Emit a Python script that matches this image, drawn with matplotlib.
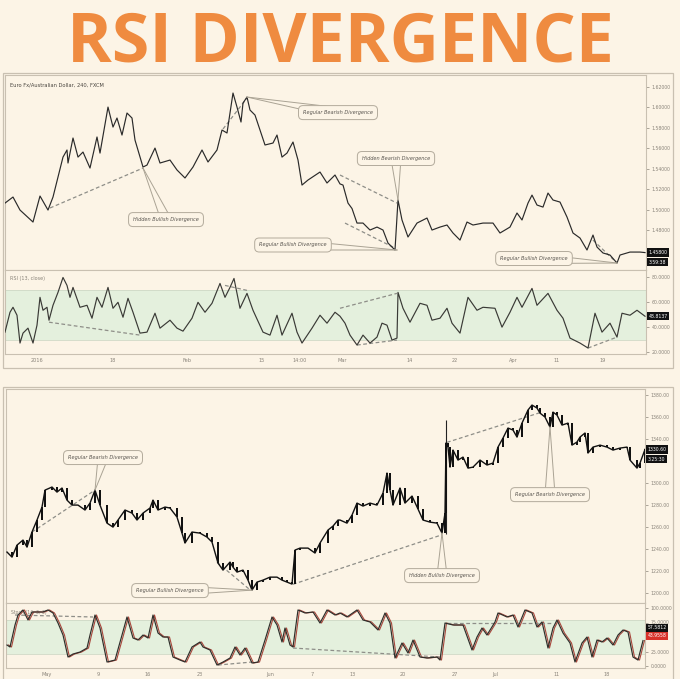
import numpy as np
import matplotlib.pyplot as plt
from matplotlib.patches import Rectangle
from matplotlib.transforms import blended_transform_factory

W, H = 680, 679
BG = '#fcf4e6'
EDGE = '#c9c0b1'
TICK = '#8a847a'
BAND = '#e4f0dd'
ORANGE = '#ef8b40'

# ---- top chart: EUR/AUD 240 (bar position, close) ----
eur_bar = [5, 13, 20, 33, 40, 48, 53, 63, 67, 68, 73, 78, 83, 90, 97, 100, 108, 113, 117, 122,
           127, 132, 135, 143, 147, 155, 160, 170, 177, 185, 193, 202, 208, 217, 222, 227, 233,
           237, 241, 243, 247, 250, 255, 260, 265, 273, 277, 282, 287, 293, 298, 302, 308, 320,
           327, 335, 340, 343, 348, 352, 357, 363, 370, 377, 383, 388, 395, 398, 402, 408, 417,
           427, 432, 440, 447, 453, 460, 467, 473, 483, 493, 500, 510, 517, 522, 528, 532, 537,
           543, 548, 553, 560, 567, 573, 580, 587, 593, 597, 603, 610, 617, 620, 630, 640, 645]
eur_close = [1.5063, 1.5122, 1.4995, 1.4878, 1.5132, 1.4995, 1.5122, 1.5512, 1.5581, 1.5454,
             1.5698, 1.5512, 1.5561, 1.5405, 1.5708, 1.5551, 1.6000, 1.5805, 1.5893, 1.5727,
             1.5942, 1.5893, 1.5678, 1.5415, 1.5434, 1.5600, 1.5454, 1.5483, 1.5386, 1.5308,
             1.5415, 1.5581, 1.5464, 1.5581, 1.5776, 1.5747, 1.6137, 1.6000, 1.5854, 1.6039,
             1.6098, 1.5971, 1.5922, 1.5776, 1.5630, 1.5649, 1.5727, 1.5512, 1.5551, 1.5659,
             1.5483, 1.5239, 1.5288, 1.5366, 1.5259, 1.5337, 1.5250, 1.5239, 1.5063, 1.5010,
             1.4868, 1.4868, 1.4800, 1.4829, 1.4800, 1.4673, 1.4605, 1.5093, 1.4898, 1.4732,
             1.4868, 1.4917, 1.4800, 1.4829, 1.4849, 1.4771, 1.4702, 1.4878, 1.4849, 1.4868,
             1.4868, 1.4771, 1.4829, 1.4966, 1.4898, 1.5063, 1.5141, 1.5044, 1.5024, 1.5161,
             1.5093, 1.5073, 1.4927, 1.4771, 1.4722, 1.4605, 1.4751, 1.4634, 1.4576, 1.4556,
             1.4478, 1.4556, 1.4585, 1.4585, 1.4580]
eur_yticks = [1.48, 1.50, 1.52, 1.54, 1.56, 1.58, 1.60, 1.62]

# RSI (13, close)
rsi_bar = [5, 10, 13, 17, 20, 23, 28, 33, 37, 40, 43, 47, 49, 53, 58, 63, 67, 70, 73, 80, 87,
           92, 97, 102, 108, 113, 118, 123, 128, 133, 140, 147, 155, 160, 170, 177, 183, 192,
           198, 205, 212, 220, 225, 230, 234, 240, 247, 253, 263, 270, 277, 282, 292, 297, 302,
           312, 320, 327, 335, 340, 345, 350, 357, 363, 370, 377, 382, 387, 392, 397, 398, 403,
           410, 420, 427, 432, 440, 447, 452, 460, 468, 477, 483, 495, 502, 510, 517, 522, 532,
           537, 548, 557, 563, 570, 580, 588, 595, 602, 610, 617, 622, 630, 637, 645]
rsi_val = [36, 52, 56, 49.6, 27.2, 35.2, 39.2, 27.2, 41.6, 64, 53.6, 56, 45.6, 57.6, 68, 80,
           73.6, 64, 72, 56, 57.6, 47.2, 64, 56, 72, 55.2, 60, 48, 63.2, 52, 35.2, 36, 51.2,
           39.2, 45.6, 39.2, 36.8, 47.2, 60, 52, 59.2, 75.2, 64, 72, 79.2, 55.2, 67.2, 53.6, 36,
           33.6, 49.6, 33.6, 51.2, 36, 27.2, 39.2, 49.6, 43.2, 52, 48.8, 43.2, 33.6, 25.6, 33.6,
           27.2, 32, 43.2, 41.6, 29.6, 31.2, 68, 55.2, 44, 59.2, 57.6, 45.6, 47.2, 55.2, 43.2,
           35.2, 64, 53.6, 56, 55.2, 40, 52, 64, 56, 71.2, 57.6, 67.2, 53.6, 47.2, 31.2, 27.2,
           23.2, 51.2, 36, 43.2, 32, 51.2, 49.6, 53.6, 48.8]
top_date_pos = [37, 113, 187, 262, 300, 342, 410, 455, 513, 557, 603]
top_date_lbl = ['2016', '18', 'Feb', '15', '14:00', 'Mar', '14', '22', 'Apr', '11', '19']

# divergence lines: (x0, y0, x1, y1)
eur_div = [(50, 1.5015, 143, 1.5405), (223, 1.5786, 247, 1.6088),
           (340, 1.5337, 397, 1.5063), (345, 1.4868, 395, 1.4624), (593, 1.4702, 617, 1.4478)]
rsi_div = [(49, 44, 140, 33.6), (225, 73.6, 247, 69.6), (340, 55.2, 397, 67.2),
           (357, 25.6, 397, 29.6), (588, 23.2, 617, 32)]
# callouts: (text, box x, box y, target x, target y)
eur_notes = [('Hidden Bullish Divergence', 166, 1.4902, 143, 1.5405),
             ('Regular Bearish Divergence', 338, 1.5946, 247, 1.6098),
             ('Hidden Bearish Divergence', 396, 1.5498, 398, 1.5093),
             ('Regular Bullish Divergence', 293, 1.4654, 397, 1.4605),
             ('Regular Bullish Divergence', 534, 1.4522, 617, 1.4478)]

# ---- bottom chart: candles (bar position, close) ----
bot_bar = [7, 12, 17, 23, 27, 32, 37, 42, 45, 52, 57, 62, 67, 72, 78, 85, 90, 95, 100, 107,
           113, 118, 125, 132, 137, 143, 150, 153, 158, 165, 170, 177, 182, 185, 192, 200, 207,
           212, 218, 223, 230, 233, 237, 243, 248, 252, 257, 263, 270, 277, 282, 287, 292, 295,
           300, 308, 315, 320, 328, 333, 338, 340, 347, 352, 357, 363, 370, 377, 383, 387, 390,
           393, 400, 405, 412, 418, 423, 430, 437, 442, 445, 446, 448, 450, 453, 458, 463, 468,
           473, 480, 487, 493, 498, 503, 508, 513, 517, 522, 528, 532, 537, 540, 545, 550, 553,
           557, 562, 568, 572, 577, 580, 585, 588, 593, 600, 607, 613, 620, 627, 630, 637, 640,
           645]
bot_close = [1237.3, 1232.7, 1243.6, 1248.2, 1241.8, 1255.5, 1266.4, 1278.2, 1293.6, 1296.4,
             1291.8, 1295.5, 1284.5, 1280, 1280, 1275.5, 1281.8, 1293.6, 1280, 1263.6, 1260,
             1266.4, 1275.5, 1272.7, 1266.4, 1272.7, 1277.3, 1284.5, 1275.5, 1278.2, 1277.3,
             1269.1, 1254.5, 1245.5, 1255.5, 1254.5, 1250.9, 1246.4, 1227.3, 1220.9, 1228.2,
             1223.6, 1219.1, 1220.9, 1211.8, 1202.7, 1210, 1211.8, 1214.5, 1214.5, 1211.8, 1210,
             1208.2, 1239.1, 1240.9, 1240.9, 1236.4, 1245.5, 1257.3, 1260.9, 1266.4, 1266.4,
             1263.6, 1270.9, 1281.8, 1279.1, 1281.8, 1280, 1290.9, 1309.1, 1293.6, 1280, 1295.5,
             1281.8, 1288.2, 1276.4, 1266.4, 1264.5, 1263.6, 1254.5, 1272.7, 1336.4, 1332.7,
             1314.5, 1330, 1320.9, 1323.6, 1313.6, 1314.5, 1320.9, 1316.4, 1318.2, 1332.7,
             1340.9, 1350, 1348.2, 1341.8, 1354.5, 1366.4, 1370.9, 1368.2, 1363.6, 1360, 1350.9,
             1364.5, 1361.8, 1352.7, 1354.5, 1334.5, 1337.3, 1341.8, 1345.5, 1327.3, 1332.7,
             1334.5, 1332.7, 1330, 1331.8, 1332.7, 1320.9, 1313.6, 1318.2, 1330.6]
spike_bar, spike_lo, spike_hi = 446, 1254.0, 1357.0
bot_yticks = [1200, 1220, 1240, 1260, 1280, 1300, 1340, 1360, 1380]

# Stochastic %K
stoch_bar = [7, 10, 15, 18, 23, 28, 32, 37, 43, 48, 53, 58, 63, 68, 73, 80, 87, 90, 95, 100,
             107, 115, 122, 127, 133, 138, 143, 148, 153, 158, 163, 168, 173, 180, 185, 192,
             200, 203, 210, 217, 223, 230, 235, 240, 245, 252, 258, 265, 272, 277, 282, 285,
             290, 293, 298, 305, 313, 320, 327, 335, 340, 347, 357, 363, 370, 378, 385, 390,
             395, 402, 408, 413, 420, 427, 437, 440, 445, 453, 463, 472, 477, 482, 487, 495,
             498, 507, 513, 518, 525, 532, 537, 542, 548, 553, 557, 563, 570, 575, 582, 587,
             592, 597, 602, 607, 613, 618, 623, 628, 633, 638, 643]
stoch_k = [36.2, 32.8, 70.7, 87.9, 96.6, 79.3, 93.1, 93.1, 93.1, 96.6, 91.4, 74.1, 53.4, 15.5,
           20.7, 24.1, 31, 53.4, 87.9, 65.5, 6.9, 10.3, 53.4, 84.5, 48.3, 44.8, 53.4, 48.3, 87.9,
           56.9, 50, 50, 15.5, 10.3, 6.9, 32.8, 41.4, 32.8, 27.6, 1.7, 6.9, 13.8, 32.8, 19, 31,
           5.2, 6.9, 44.8, 84.5, 70.7, 41.4, 65.5, 36.2, 32.8, 96.6, 91.4, 93.1, 74.1, 96.6,
           87.9, 91.4, 84.5, 96.6, 79.3, 75.9, 62.1, 91.4, 74.1, 13.8, 39.7, 22.4, 44.8, 15.5,
           13.8, 15.5, 10.3, 74.1, 70.7, 70.7, 27.6, 50, 65.5, 53.4, 75.9, 91.4, 84.5, 87.9,
           67.2, 96.6, 91.4, 67.2, 75.9, 31, 65.5, 79.3, 56.9, 39.7, 6.9, 39.7, 50, 15.5, 44.8,
           41.4, 48.3, 36.2, 53.4, 62.1, 58.6, 15.5, 10.3, 43.9]
bot_date_pos = [47, 98, 148, 200, 270, 312, 353, 403, 455, 495, 557, 607]
bot_date_lbl = ['May', '9', '16', '23', 'Jun', '7', '13', '20', '27', 'Jul', '11', '18']

bot_div = [(32, 1255.5, 95, 1293.6), (217, 1228, 250, 1203),
           (293, 1208, 442, 1253), (447, 1337, 540, 1364)]
stoch_div = [(15, 87.9, 93, 84.5), (218, 1.7, 252, 6.9), (293, 31, 440, 15.5),
             (447, 74.1, 553, 74.1)]
bot_notes = [('Regular Bearish Divergence', 103, 1323.2, 95, 1293.6),
             ('Regular Bullish Divergence', 170, 1202.3, 252, 1202.7),
             ('Hidden Bullish Divergence', 442, 1215.9, 442, 1254.5),
             ('Regular Bearish Divergence', 550, 1289.5, 550, 1350.9)]


def rect(x0, y0, x1, y1):
    return [x0 / W, 1 - y1 / H, (x1 - x0) / W, (y1 - y0) / H]


def style(ax, xlim, ylim):
    ax.set_facecolor(BG)
    ax.set_xlim(*xlim)
    ax.set_ylim(*ylim)
    for s in ax.spines.values():
        s.set_color(EDGE)
        s.set_linewidth(0.8)
    ax.yaxis.tick_right()
    ax.tick_params(axis='y', labelsize=3.3, colors=TICK, length=2, width=0.5, pad=2)
    ax.tick_params(axis='x', labelsize=3.6, colors=TICK, length=0, pad=3)
    ax.set_xticks([])


def dashes(ax, segs):
    for x0, y0, x1, y1 in segs:
        ax.plot([x0, x1], [y0, y1], color='#8e8e88', lw=0.9, ls=(0, (3, 2)), zorder=4)


def callout(ax, text, cx, cy, tx, ty):
    ax.text(cx, cy, text, fontsize=3.6, style='italic', color='#5a5650', ha='center',
            va='center', zorder=7,
            bbox=dict(boxstyle='round,pad=0.9,rounding_size=0.9', fc=BG, ec='#b3ab9c', lw=0.7))
    c = ax.transData.transform((cx, cy))
    t = ax.transData.transform((tx, ty))
    d = c - t
    n = np.array([-d[1], d[0]]) / np.hypot(*d) * 5
    for s in (1, -1):
        p = ax.transData.inverted().transform(c + s * n)
        ax.plot([tx, p[0]], [ty, p[1]], color='#aaa394', lw=0.7, zorder=6, clip_on=False)


def value_tag(ax, y, text, fc, dy=0):
    tr = blended_transform_factory(ax.transAxes, ax.transData)
    ax.annotate(text, (1.004, y), xycoords=tr, xytext=(0, dy), textcoords='offset points',
                fontsize=3.3, color='white', ha='left', va='center', zorder=8,
                annotation_clip=False,
                bbox=dict(boxstyle='square,pad=0.35', fc=fc, ec='none'))


fig = plt.figure(figsize=(W / 100, H / 100), dpi=100, facecolor=BG)

fig.text(0.5, 1 - 62 / H, 'RSI DIVERGENCE', ha='center', va='baseline', fontsize=49,
         fontweight='bold', color=ORANGE, family=['Open Sans', 'DejaVu Sans'])

# frames around the two screenshots
for y0, y1 in ((73, 368), (387, 690)):
    fig.add_artist(Rectangle((3 / W, 1 - y1 / H), 670 / W, (y1 - y0) / H,
                             transform=fig.transFigure, fill=False, ec=EDGE, lw=0.9))

# ---- top price ----
ax1 = fig.add_axes(rect(5, 75, 646, 270))
style(ax1, (5, 646), (1.4410, 1.6313))
ax1.set_yticks(eur_yticks)
ax1.set_yticklabels([f'{v:.5f}' for v in eur_yticks])
ax1.plot(eur_bar, eur_close, color='#2a2a2a', lw=0.85, zorder=5)
dashes(ax1, eur_div)
for n in eur_notes:
    callout(ax1, *n)
ax1.text(0.008, 0.95, 'Euro Fx/Australian Dollar, 240, FXCM', transform=ax1.transAxes,
         fontsize=3.7, color='#4a4640', ha='left', va='center')
value_tag(ax1, eur_close[-1], f'{eur_close[-1]:.5f}', '#111')
value_tag(ax1, eur_close[-1], '3:59:38', '#111', dy=-7)

# ---- top RSI ----
ax2 = fig.add_axes(rect(5, 270, 646, 354))
style(ax2, (5, 646), (18.4, 86))
ax2.axhspan(30, 70, color=BAND, zorder=1, lw=0)
ax2.axhline(70, color='#cfd9c6', lw=0.6, zorder=2)
ax2.axhline(30, color='#cfd9c6', lw=0.6, zorder=2)
ax2.set_yticks([20, 40, 60, 80])
ax2.set_yticklabels(['20.0000', '40.0000', '60.0000', '80.0000'])
ax2.plot(rsi_bar, rsi_val, color='#3a3a36', lw=0.85, zorder=5)
dashes(ax2, rsi_div)
ax2.set_xticks(top_date_pos)
ax2.set_xticklabels(top_date_lbl)
ax2.text(0.008, 0.9, 'RSI (13, close)', transform=ax2.transAxes, fontsize=3.5,
         color='#8a847a', ha='left', va='center')
value_tag(ax2, rsi_val[-1], '48.8137', '#111')

# ---- bottom price (candles) ----
ax3 = fig.add_axes(rect(6, 389, 645, 603))
style(ax3, (6, 645), (1191, 1385.5))
ax3.set_yticks(bot_yticks)
ax3.set_yticklabels([f'{v:.2f}' for v in bot_yticks])
bc = np.array(bot_close)
ax3.vlines(spike_bar, spike_lo, spike_hi, color='#222', lw=0.8, zorder=4)
ax3.plot(bot_bar, bot_close, color='#111', lw=1.0, zorder=5)
ax3.bar(bot_bar[1:], bc[1:] - bc[:-1], bottom=bc[:-1], width=1.8, color='#111', zorder=5)
dashes(ax3, bot_div)
for n in bot_notes:
    callout(ax3, *n)
value_tag(ax3, bot_close[-1], f'{bot_close[-1]:.2f}', '#111')
value_tag(ax3, bot_close[-1], '3:25:30', '#111', dy=-7)

# ---- bottom stochastic ----
ax4 = fig.add_axes(rect(6, 603, 645, 668))
style(ax4, (6, 645), (-3.4, 108.6))
ax4.axhspan(20, 80, color=BAND, zorder=1, lw=0)
ax4.axhline(80, color='#cfd9c6', lw=0.6, zorder=2)
ax4.axhline(20, color='#cfd9c6', lw=0.6, zorder=2)
ax4.set_yticks([0, 25, 75, 100])
ax4.set_yticklabels(['0.0000', '25.0000', '75.0000', '100.0000'])
ax4.plot(np.array(stoch_bar) + 1.5, stoch_k, color='#a8473c', lw=0.8, zorder=4)
ax4.plot(stoch_bar, stoch_k, color='#2e2e2a', lw=0.85, zorder=5)
dashes(ax4, stoch_div)
ax4.set_xticks(bot_date_pos)
ax4.set_xticklabels(bot_date_lbl)
ax4.text(0.008, 0.85, 'Stoch (14, 3, 3)', transform=ax4.transAxes, fontsize=3.3,
         color='#8a847a', ha='left', va='center')
value_tag(ax4, 66, '57.5812', '#111')
value_tag(ax4, 52, '43.9558', '#d8322a')

fig.savefig('out.png', dpi=100, facecolor=BG)
